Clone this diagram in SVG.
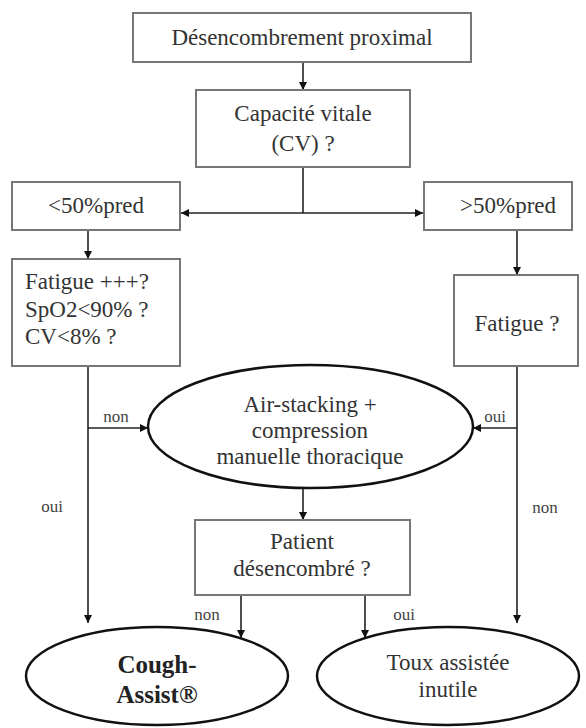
<svg xmlns="http://www.w3.org/2000/svg" width="586" height="728" viewBox="0 0 586 728">
<style>
.box{fill:#fff;stroke:#777;stroke-width:2}
.ell{fill:#fff;stroke:#111;stroke-width:2.5}
text{font-family:"Times New Roman",Times,"Liberation Serif","Nimbus Roman","Noto Serif","DejaVu Serif",serif}
.t{font-size:23px;fill:#333;text-anchor:middle}
.tl{font-size:23px;fill:#333}
.tb{font-size:25px;font-weight:bold;fill:#222;text-anchor:middle}
.lab{font-size:17px;fill:#444;text-anchor:middle}
.c{fill:none;stroke:#222;stroke-width:1.6}
</style>
<defs>
<marker id="ah" markerUnits="userSpaceOnUse" markerWidth="10" markerHeight="10" refX="8" refY="4" orient="auto">
<path d="M0,0 L8,4 L0,8 Z" fill="#111"/>
</marker>
</defs>
<rect width="586" height="728" fill="#fff"/>
<g id="connectors">
<line class="c" x1="303" y1="62" x2="303" y2="90" marker-end="url(#ah)"/>
<line class="c" x1="303" y1="167" x2="303" y2="213"/>
<line class="c" x1="303" y1="213" x2="181" y2="213" marker-end="url(#ah)"/>
<line class="c" x1="303" y1="213" x2="423" y2="213" marker-end="url(#ah)"/>
<line class="c" x1="88" y1="230" x2="88" y2="259" marker-end="url(#ah)"/>
<line class="c" x1="517" y1="230" x2="517" y2="275" marker-end="url(#ah)"/>
<line class="c" x1="88" y1="366" x2="88" y2="623" marker-end="url(#ah)"/>
<line class="c" x1="88" y1="428" x2="148" y2="428" marker-end="url(#ah)"/>
<line class="c" x1="517" y1="366" x2="517" y2="623" marker-end="url(#ah)"/>
<line class="c" x1="517" y1="428" x2="473" y2="428" marker-end="url(#ah)"/>
<line class="c" x1="303" y1="488" x2="303" y2="520" marker-end="url(#ah)"/>
<line class="c" x1="241" y1="595" x2="241" y2="638" marker-end="url(#ah)"/>
<line class="c" x1="365" y1="595" x2="365" y2="638" marker-end="url(#ah)"/>
<text class="lab" x="116" y="422">non</text>
<text class="lab" x="52" y="512">oui</text>
<text class="lab" x="495" y="422">oui</text>
<text class="lab" x="545" y="513">non</text>
<text class="lab" x="207" y="620">non</text>
<text class="lab" x="404" y="620">oui</text>
</g>
<g id="n-desencombrement">
<rect class="box" x="133" y="13" width="338" height="49"/>
<text class="t" x="302" y="45">Désencombrement proximal</text>
</g>
<g id="n-capacite">
<rect class="box" x="196" y="90" width="214" height="77"/>
<text class="t" x="303" y="121">Capacité vitale</text>
<text class="t" x="303" y="151">(CV) ?</text>
</g>
<g id="n-inf50">
<rect class="box" x="12" y="182" width="168" height="48"/>
<text class="t" x="96" y="213">&lt;50%pred</text>
</g>
<g id="n-sup50">
<rect class="box" x="424" y="182" width="148" height="48"/>
<text class="t" x="508" y="213">&gt;50%pred</text>
</g>
<g id="n-fatigue-plus">
<rect class="box" x="12" y="259" width="168" height="107"/>
<text class="tl" x="25" y="289">Fatigue +++?</text>
<text class="tl" x="25" y="317">SpO2&lt;90% ?</text>
<text class="tl" x="25" y="344">CV&lt;8% ?</text>
</g>
<g id="n-fatigue">
<rect class="box" x="454" y="275" width="124" height="91"/>
<text class="t" x="517" y="331">Fatigue ?</text>
</g>
<g id="n-airstacking">
<ellipse class="ell" cx="310.5" cy="426.5" rx="162.5" ry="61.5"/>
<text class="t" x="310" y="412">Air-stacking +</text>
<text class="t" x="310" y="438">compression</text>
<text class="t" x="310" y="464">manuelle thoracique</text>
</g>
<g id="n-patient">
<rect class="box" x="195" y="520" width="215" height="75"/>
<text class="t" x="302" y="549">Patient</text>
<text class="t" x="302" y="576">désencombré ?</text>
</g>
<g id="n-cough">
<ellipse class="ell" cx="157" cy="676" rx="131" ry="49"/>
<text class="tb" x="157" y="673">Cough-</text>
<text class="tb" x="157" y="703">Assist®</text>
</g>
<g id="n-toux">
<ellipse class="ell" cx="448" cy="676" rx="131" ry="49"/>
<text class="t" x="448" y="670">Toux assistée</text>
<text class="t" x="448" y="697">inutile</text>
</g>
</svg>
